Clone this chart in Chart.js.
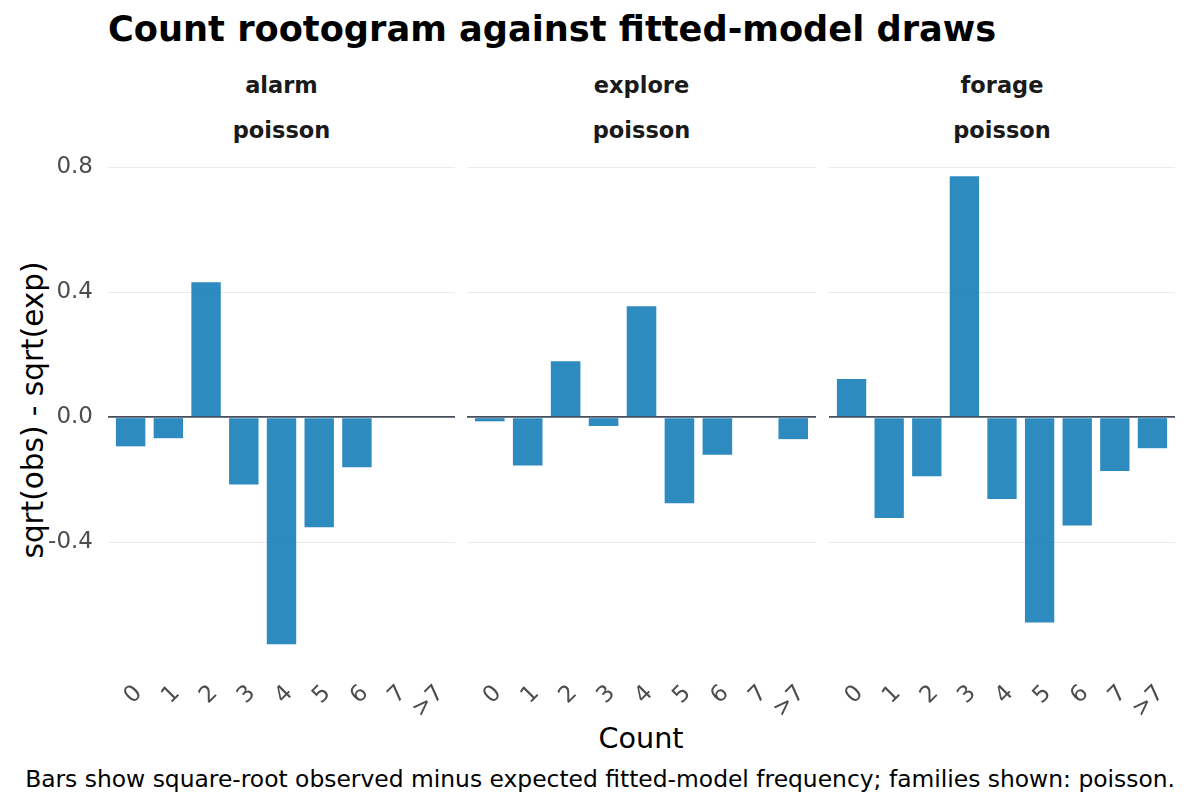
<!DOCTYPE html>
<html>
<head>
<meta charset="utf-8">
<script src="https://cdn.jsdelivr.net/npm/chart.js@4.4.1/dist/chart.umd.min.js"></script>
<style>
  html, body { margin: 0; padding: 0; background: #fff; }
  body { width: 1190px; height: 806px; position: relative; overflow: hidden; font-family: 'DejaVu Sans', sans-serif; }
  .title { position: absolute; left: 108px; top: 8px; font-size: 35.2px; line-height: normal; font-weight: bold; color: #000; white-space: nowrap; }
  .strip { position: absolute; width: 300px; text-align: center; font-size: 22.5px; font-weight: bold; color: #1a1a1a; }
  .panel { position: absolute; top: 143px; }
  .ytitle { position: absolute; left: 33px; top: 410px; transform: translate(-50%, -50%) rotate(-90deg); font-size: 29.5px; color: #000; white-space: nowrap; }
  .xtitle { position: absolute; left: 641px; top: 721px; transform: translateX(-50%); font-size: 28.7px; color: #000; }
  .caption { position: absolute; right: 15px; top: 765px; font-size: 23.4px; color: #000; white-space: nowrap; }
</style>
</head>
<body>
<div class="title">Count rootogram against fitted-model draws</div>
<div class="ytitle">sqrt(obs) - sqrt(exp)</div>
<div class="xtitle">Count</div>
<div class="caption">Bars show square-root observed minus expected fitted-model frequency; families shown: poisson.</div>

<div class="panel" style="left:0px"><canvas id="panel-alarm" width="460" height="586"></canvas></div>
<div class="panel" style="left:467px"><canvas id="panel-explore" width="354" height="586"></canvas></div>
<div class="panel" style="left:829px"><canvas id="panel-forage" width="356" height="586"></canvas></div>

<script>
const categories = ['0', '1', '2', '3', '4', '5', '6', '7', '>7'];
const panelNames = ['alarm', 'explore', 'forage'];
const familyName = 'poisson';

const alarmValues = [-0.093, -0.067, 0.432, -0.215, -0.726, -0.352, -0.16, null, null];
const exploreValues = [-0.013, -0.154, 0.179, -0.028, 0.355, -0.275, -0.12, null, -0.07];
const forageValues = [0.122, -0.322, -0.189, 0.771, -0.261, -0.656, -0.346, -0.172, -0.099];

const yTicks = [-0.4, 0, 0.4, 0.8];

const panelValues = { alarm: alarmValues, explore: exploreValues, forage: forageValues };

const panelBoxes = {
    alarm: { left: 0, width: 460, axisWidth: 108, padRight: 5 },
    explore: { left: 467, width: 354, axisWidth: 0, padRight: 5 },
    forage: { left: 829, width: 356, axisWidth: 0, padRight: 10 },
};

const font = 'DejaVu Sans';
const barColor = 'rgba(0, 114, 178, 0.82)';

// strip labels above each panel
panelNames.forEach((name) => {
    const box = panelBoxes[name];
    const plotLeft = box.left + box.axisWidth;
    const plotWidth = box.width - box.axisWidth - box.padRight;
    const centre = plotLeft + plotWidth / 2;
    [[name, 72], [familyName, 117]].forEach(([text, top]) => {
        const el = document.createElement('div');
        el.className = 'strip';
        el.textContent = text;
        el.style.left = `${centre - 150}px`;
        el.style.top = `${top}px`;
        document.body.appendChild(el);
    });
});

const makeChart = (name) => {
    const box = panelBoxes[name];
    const showY = box.axisWidth > 0;
    const canvas = document.getElementById(`panel-${name}`);

    return new Chart(canvas.getContext('2d'), {
        type: 'bar',
        data: {
            datasets: [
                {
                    data: panelValues[name].map((v, i) => ({ x: i, y: v })),
                    backgroundColor: barColor,
                    borderWidth: 0,
                    barPercentage: 0.78,
                    categoryPercentage: 1,
                },
            ],
        },
        options: {
            responsive: false,
            animation: false,
            events: [],
            layout: { padding: { top: 10, right: box.padRight, left: 0, bottom: 0 } },
            plugins: { legend: { display: false }, tooltip: { enabled: false } },
            scales: {
                x: {
                    type: 'linear',
                    offset: false,
                    min: -0.6,
                    max: categories.length - 1 + 0.6,
                    afterBuildTicks: (axis) => {
                        axis.ticks = categories.map((_c, i) => ({ value: i }));
                    },
                    afterFit: (scale) => {
                        scale.height = 60;
                        scale.paddingLeft = 0;
                        scale.paddingRight = 0;
                    },
                    grid: { display: false },
                    border: { display: false },
                    ticks: {
                        autoSkip: false,
                        minRotation: 45,
                        maxRotation: 45,
                        padding: 3,
                        labelOffset: 8,
                        color: '#4d4d4d',
                        font: { family: font, size: 23 },
                        callback: (value) => categories[value] ?? '',
                    },
                },
                y: {
                    min: -0.805,
                    max: 0.845,
                    afterBuildTicks: (axis) => {
                        axis.ticks = yTicks.map((v) => ({ value: v }));
                    },
                    afterFit: (scale) => {
                        scale.width = box.axisWidth;
                        scale.paddingTop = 0;
                        scale.paddingBottom = 0;
                    },
                    border: { display: false },
                    grid: {
                        drawTicks: false,
                        color: (ctx) => ctx.tick && ctx.tick.value === 0 ? '#454e5b' : '#ebebeb',
                        lineWidth: (ctx) => ctx.tick && ctx.tick.value === 0 ? 1.8 : 1.1,
                    },
                    ticks: {
                        display: showY,
                        padding: 15,
                        color: '#4d4d4d',
                        font: { family: font, size: 23 },
                        callback: (value) => value.toFixed(1),
                    },
                },
            },
        },
    });
};

panelNames.forEach(makeChart);
</script>
</body>
</html>
